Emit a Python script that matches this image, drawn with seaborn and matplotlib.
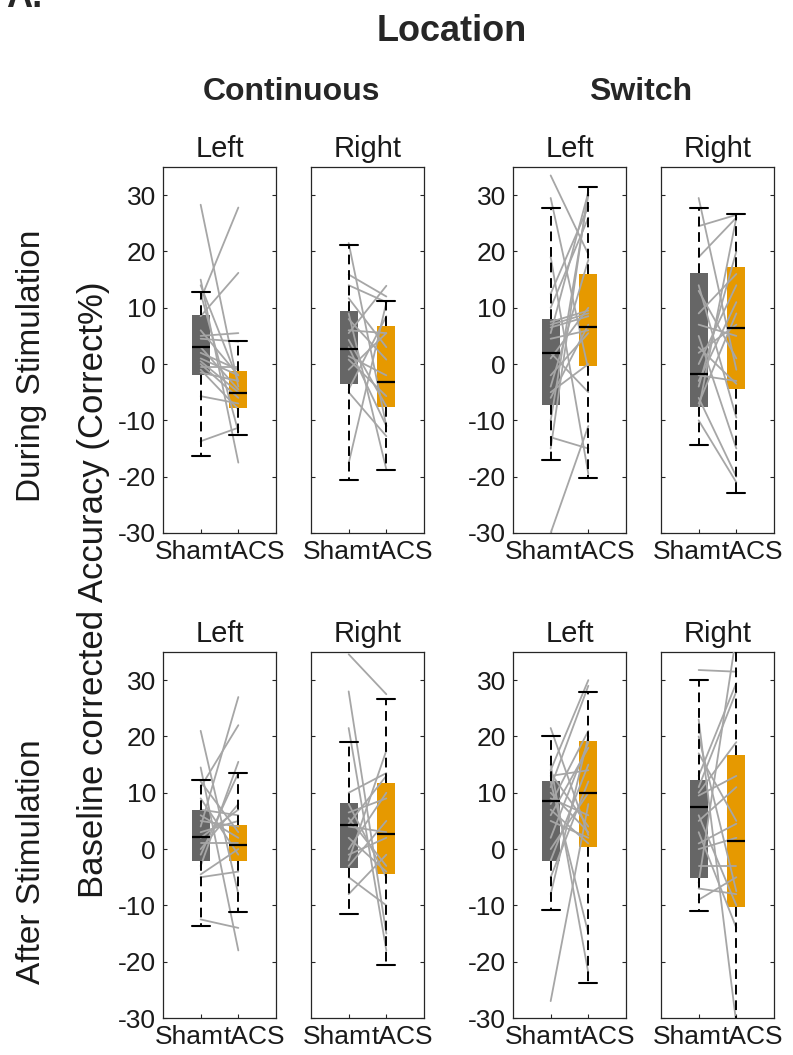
import numpy as np
import pandas as pd
import matplotlib
matplotlib.use("Agg")
import matplotlib.pyplot as plt
from matplotlib.transforms import ScaledTranslation
import seaborn as sns

# ---- labels ----
conditions = ["Sham", "tACS"]
sides = ["Left", "Right"]
tasks = ["Continuous", "Switch"]
periods = ["During Stimulation", "After Stimulation"]
yticks = [-30, -20, -10, 0, 10, 20, 30]

# Panel order: During/Cont-L, During/Cont-R, During/Switch-L, During/Switch-R,
#              After/Cont-L,  After/Cont-R,  After/Switch-L,  After/Switch-R

# ---- box summaries (quartiles, median, whisker ends) ----
sham_q1 = [-1.9, -3.5, -7.2, -7.6, -2.1, -3.4, -2.1, -5.2]
sham_med = [3.05, 2.75, 2.0, -1.75, 2.2, 4.3, 8.5, 7.5]
sham_q3 = [8.8, 9.5, 8.0, 16.1, 6.9, 8.1, 12.1, 12.2]
sham_lo = [-16.4, -20.5, -17.1, -14.4, -13.7, -11.6, -10.8, -11.0]
sham_hi = [12.8, 21.2, 27.7, 27.8, 12.2, 19.1, 20.1, 30.1]

tacs_q1 = [-7.8, -7.6, -0.3, -4.5, -2.1, -4.5, 0.4, -10.2]
tacs_med = [-5.2, -3.2, 6.6, 6.4, 0.7, 2.6, 10.0, 1.5]
tacs_q3 = [-1.15, 6.7, 16.0, 17.3, 4.3, 11.8, 19.2, 16.7]
tacs_lo = [-12.6, -18.75, -20.2, -22.9, -11.2, -20.5, -23.8, -50.0]
tacs_hi = [4.1, 11.2, 31.4, 26.7, 13.5, 26.7, 27.9, 56.7]

# ---- individual participants (paired sham / tACS values) ----
dur_cont_left_sham = [28.3, 15.0, 14.0, 11.5, 8.5, 5.0, 4.5, 2.0, 1.0, 0.5, 0.0,
                      -0.5, -1.0, -1.5, -5.7, -13.7, 3.0, 6.0, 12.6]
dur_cont_left_tacs = [-4.0, -17.5, -3.0, 27.8, 16.2, 5.5, 4.0, -1.0, -2.0, -5.0, -6.0,
                      -0.5, -8.0, -3.0, -7.0, -11.3, -4.5, -2.0, -12.0]

dur_cont_right_sham = [21.5, 15.9, 14.0, 5.5, 11.7, 6.0, 4.3, 1.4, 0.8, -4.5,
                       -17.6, -5.0, 9.0, 3.0, 8.0, -1.0]
dur_cont_right_tacs = [-11.0, 12.0, 11.0, 13.9, 3.0, 5.5, -7.5, -2.0, -5.7, 8.5,
                       10.9, -12.8, -18.7, -11.0, 0.8, 5.5]

dur_sw_left_sham = [33.5, 29.5, 19.0, 12.5, 10.0, 7.5, 7.0, 6.5, 5.5, 4.5, 2.0,
                    1.0, -2.0, -4.0, -5.0, -6.0, -10.0, -13.0, -15.0, -30.0]
dur_sw_left_tacs = [19.5, -1.0, -19.5, 28.0, 26.0, 9.5, 9.0, 8.5, 30.5, 6.0, -5.0,
                    10.0, 5.5, 18.5, 0.0, 7.0, 30.0, -15.0, 31.0, -11.0]

dur_sw_right_sham = [29.5, 24.5, 19.0, 14.0, 9.0, 7.0, 5.0, 2.0, 0.0, -2.0,
                     -4.0, -6.0, -7.0, -8.0, -10.0, 13.0, 3.0, -3.0]
dur_sw_right_tacs = [-1.0, 26.5, 26.0, -9.5, 16.0, 5.0, -15.0, 7.0, 14.0, -3.0,
                     20.0, -20.0, 9.0, 26.0, -21.0, 1.0, -3.5, 11.0]

aft_cont_left_sham = [21.0, 14.5, 12.0, 11.0, 7.0, 6.0, 4.0, 3.0, 2.0, 1.0, 0.0,
                      -1.0, -3.0, -5.0, -12.5, 9.0, 5.0, -4.5]
aft_cont_left_tacs = [-8.0, -18.0, 3.0, 22.0, 6.0, 2.0, 27.0, 5.0, 7.0, 1.0, 8.0,
                      13.5, 15.5, -4.0, -14.0, -1.0, 4.0, 0.0]

aft_cont_right_sham = [34.6, 28.0, 21.5, 10.0, 6.5, 5.5, 4.5, 4.0, 2.0, -2.0,
                       -3.0, -5.0, -8.0, 0.0, 8.0, -1.0]
aft_cont_right_tacs = [27.5, -15.0, -18.0, 13.5, 9.0, -3.0, 13.0, 3.0, -4.0, 17.5,
                       5.0, -10.0, -1.0, 10.0, -5.0, 2.0]

aft_sw_left_sham = [21.5, 15.0, 14.0, 13.5, 13.0, 12.0, 11.0, 10.0, 8.0, 6.0,
                    5.0, 2.0, 0.0, -2.0, -5.0, -8.0, -27.0, 9.0, 7.0]
aft_sw_left_tacs = [2.5, -22.0, 30.0, 4.0, 14.0, -15.0, 29.0, 3.0, 21.0, 18.0,
                    2.0, 19.0, 10.0, 15.0, 12.0, 20.0, 8.0, 6.0, 1.0]

aft_sw_right_sham = [31.8, 23.0, 20.0, 17.0, 11.0, 10.0, 9.5, 6.0, 5.0, 1.0,
                     0.0, -3.0, -6.0, -7.0, -9.0, 13.0, 3.0]
aft_sw_right_tacs = [31.5, -31.0, -7.5, 5.0, 28.0, 19.0, 13.0, -10.0, 11.0, 4.5,
                     2.0, -3.0, 38.0, -8.0, -5.0, 29.5, -14.0]

sham_sets = [dur_cont_left_sham, dur_cont_right_sham, dur_sw_left_sham, dur_sw_right_sham,
             aft_cont_left_sham, aft_cont_right_sham, aft_sw_left_sham, aft_sw_right_sham]
tacs_sets = [dur_cont_left_tacs, dur_cont_right_tacs, dur_sw_left_tacs, dur_sw_right_tacs,
             aft_cont_left_tacs, aft_cont_right_tacs, aft_sw_left_tacs, aft_sw_right_tacs]

# ---- style ----
sham_color = "#666666"
tacs_color = "#E69900"
pair_color = "#A6A6A6"
spine_color = "#262626"
text_color = "#1a1a1a"

sns.set_theme(style="ticks")
plt.rcParams["font.family"] = ["Liberation Sans", "DejaVu Sans"]
plt.rcParams["axes.linewidth"] = 0.9

W, H = 793, 1055
fig = plt.figure(figsize=(W / 100, H / 100), dpi=100)

col_left_px = [163, 311, 513, 661]
row_top_px = [167, 652]
ax_w_px, ax_h_px = 113, 366


def px_box(left, top):
    return [left / W, 1 - (top + ax_h_px) / H, ax_w_px / W, ax_h_px / H]


positions = [1, 2]
# the two category labels meet between the ticks
label_shift_in = [0.23, -0.145]
label_align = ["right", "left"]

for i in range(8):
    r, c = divmod(i, 4)
    ax = fig.add_axes(px_box(col_left_px[c], row_top_px[r]))

    stats = [
        dict(q1=sham_q1[i], med=sham_med[i], q3=sham_q3[i],
             whislo=sham_lo[i], whishi=sham_hi[i], fliers=[], label=conditions[0]),
        dict(q1=tacs_q1[i], med=tacs_med[i], q3=tacs_q3[i],
             whislo=tacs_lo[i], whishi=tacs_hi[i], fliers=[], label=conditions[1]),
    ]
    bp = ax.bxp(stats, positions=positions, widths=0.47, patch_artist=True,
                showfliers=False, manage_ticks=False,
                boxprops=dict(linewidth=0),
                whiskerprops=dict(color="black", linewidth=1.4, linestyle=(0, (5, 3))),
                capprops=dict(color="black", linewidth=1.5),
                medianprops=dict(color="black", linewidth=1.6),
                capwidths=0.47)
    for patch, col in zip(bp["boxes"], [sham_color, tacs_color]):
        patch.set_facecolor(col)
        patch.set_edgecolor(col)
        patch.set_zorder(2)
    for art in bp["whiskers"] + bp["caps"]:
        art.set_zorder(4)
    for art in bp["medians"]:
        art.set_zorder(5)

    # paired participant lines
    n = len(sham_sets[i])
    df = pd.DataFrame({
        "subject": list(range(n)) * 2,
        "condition": [conditions[0]] * n + [conditions[1]] * n,
        "value": list(sham_sets[i]) + list(tacs_sets[i]),
    })
    df["pos"] = df["condition"].map({k: p for k, p in zip(conditions, positions)})
    sns.lineplot(data=df, x="pos", y="value", units="subject", estimator=None,
                 color=pair_color, linewidth=1.3, legend=False, ax=ax, zorder=3)

    ax.set_xlim(0, 3)
    ax.set_ylim(-30, 35)
    ax.set_xticks(positions)
    ax.set_xticklabels(conditions, fontsize=19)
    ax.set_yticks(yticks)
    if c in (0, 2):
        ax.set_yticklabels([str(t) for t in yticks], fontsize=19)
    else:
        ax.set_yticklabels([])
    ax.set_xlabel("")
    ax.set_ylabel("")
    ax.tick_params(axis="y", direction="in", length=3, width=0.8, pad=5,
                   right=True, colors=spine_color, labelcolor=text_color)
    ax.tick_params(axis="x", direction="in", length=3, width=0.8, pad=5,
                   colors=spine_color, labelcolor=text_color)
    for lab, dx, ha in zip(ax.get_xticklabels(), label_shift_in, label_align):
        lab.set_horizontalalignment(ha)
        lab.set_transform(lab.get_transform() +
                          ScaledTranslation(dx, 0, fig.dpi_scale_trans))
    for sp in ax.spines.values():
        sp.set_visible(True)
        sp.set_color(spine_color)
        sp.set_linewidth(0.9)
    ax.set_title(sides[c % 2], fontsize=21, pad=7, color=text_color)

# ---- figure-level headings ----
def fx(x):
    return x / W


def fy(y):
    return 1 - y / H


fig.text(fx(6), fy(7), "A.", fontsize=26, fontweight="bold", ha="left", va="baseline")
fig.text(fx(452), fy(41), "Location", fontsize=26, fontweight="bold",
         ha="center", va="baseline")
fig.text(fx(292), fy(100), tasks[0], fontsize=23, fontweight="bold",
         ha="center", va="baseline")
fig.text(fx(641), fy(100), tasks[1], fontsize=23, fontweight="bold",
         ha="center", va="baseline")
fig.text(fx(32), fy(366), periods[0], fontsize=24, rotation=90,
         ha="center", va="center", color=text_color)
fig.text(fx(32), fy(862), periods[1], fontsize=24, rotation=90,
         ha="center", va="center", color=text_color)
fig.text(fx(94), fy(590), "Baseline corrected Accuracy (Correct%)", fontsize=25,
         rotation=90, ha="center", va="center", color=text_color)

fig.savefig("out.png", dpi=100, facecolor="white")
